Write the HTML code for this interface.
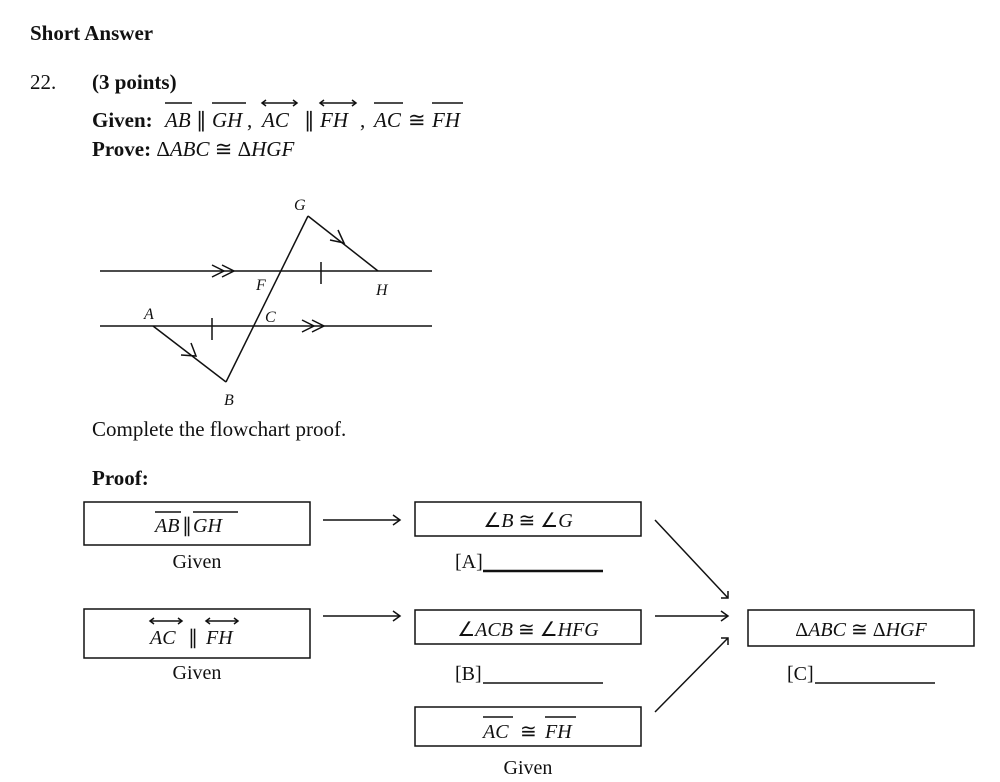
<!DOCTYPE html>
<html><head><style>body{margin:0;background:#fff}svg{display:block}text{font-family:"Liberation Serif",serif;fill:#111}</style></head><body>
<svg width="1000" height="782" viewBox="0 0 1000 782" xmlns="http://www.w3.org/2000/svg">
<g font-size="21">
<text x="30" y="40" font-weight="bold">Short Answer</text>
<text x="30" y="89">22.</text>
<text x="92" y="89" font-weight="bold">(3 points)</text>
<text x="92" y="127" font-weight="bold">Given:</text>
<text y="127" font-style="italic"><tspan x="165">AB</tspan><tspan x="212">GH</tspan><tspan x="262">AC</tspan><tspan x="320">FH</tspan><tspan x="374">AC</tspan><tspan x="432">FH</tspan></text>
<text y="127"><tspan x="196">∥</tspan><tspan x="247">,</tspan><tspan x="304">∥</tspan><tspan x="360">,</tspan><tspan x="408">≅</tspan></text>
<text x="92" y="156"><tspan font-weight="bold">Prove: </tspan>Δ<tspan font-style="italic">ABC</tspan> ≅ Δ<tspan font-style="italic">HGF</tspan></text>
<text x="92" y="436">Complete the flowchart proof.</text>
<text x="92" y="485" font-weight="bold">Proof:</text>
</g>
<g stroke="#111" stroke-width="1.5" fill="none">
<line x1="165" y1="103" x2="192" y2="103"/><line x1="212" y1="103" x2="246" y2="103"/>
<line x1="262" y1="103" x2="297" y2="103"/><line x1="320" y1="103" x2="356" y2="103"/>
<line x1="374" y1="103" x2="403" y2="103"/><line x1="432" y1="103" x2="463" y2="103"/>
<path d="M266 100 L262 103 L266 106 M293 100 L297 103 L293 106 M324 100 L320 103 L324 106 M352 100 L356 103 L352 106"/>
<line x1="100" y1="271" x2="432" y2="271"/>
<line x1="100" y1="326" x2="432" y2="326"/>
<line x1="308" y1="216" x2="226" y2="382"/>
<line x1="308" y1="216" x2="378" y2="271"/>
<line x1="153" y1="326" x2="226" y2="382"/>
<path d="M212 265 L224 271 L212 277 M222 265 L234 271 L222 277"/>
<path d="M302 320 L314 326 L302 332 M312 320 L324 326 L312 332"/>
<line x1="321" y1="262" x2="321" y2="284"/><line x1="212" y1="318" x2="212" y2="340"/>
<path d="M330 240 L344 243 L338 230"/>
<path d="M181 355 L196 356 L191 343"/>
<rect x="84" y="502" width="226" height="43"/>
<rect x="415" y="502" width="226" height="34"/>
<rect x="84" y="609" width="226" height="49"/>
<rect x="415" y="610" width="226" height="34"/>
<rect x="415" y="707" width="226" height="39"/>
<rect x="748" y="610" width="226" height="36"/>
<line x1="323" y1="520" x2="400" y2="520"/><path d="M393 515 L400 520 L393 525"/>
<line x1="323" y1="616" x2="400" y2="616"/><path d="M393 611 L400 616 L393 621"/>
<line x1="655" y1="520" x2="728" y2="598"/><path d="M728 591 L728 598 L721 598"/>
<line x1="655" y1="616" x2="728" y2="616"/><path d="M721 611 L728 616 L721 621"/>
<line x1="655" y1="712" x2="728" y2="638"/><path d="M721 638 L728 638 L728 645"/>
<line x1="155" y1="512" x2="181" y2="512"/><line x1="193" y1="512" x2="238" y2="512"/>
<line x1="150" y1="621" x2="182" y2="621"/><line x1="206" y1="621" x2="238" y2="621"/>
<path d="M154 618 L150 621 L154 624 M178 618 L182 621 L178 624 M210 618 L206 621 L210 624 M234 618 L238 621 L234 624"/>
<line x1="483" y1="717" x2="513" y2="717"/><line x1="545" y1="717" x2="576" y2="717"/>
<line x1="483" y1="571" x2="603" y2="571" stroke-width="2.5"/>
<line x1="483" y1="683" x2="603" y2="683"/>
<line x1="815" y1="683" x2="935" y2="683"/>
</g>
<g font-size="16" font-style="italic">
<text x="294" y="210">G</text><text x="376" y="295">H</text><text x="256" y="290">F</text>
<text x="265" y="322">C</text><text x="144" y="319">A</text><text x="224" y="405">B</text>
</g>
<g font-size="20">
<text y="532" font-style="italic"><tspan x="155">AB</tspan><tspan x="193">GH</tspan></text><text x="182" y="532">∥</text>
<text y="644" font-style="italic"><tspan x="150">AC</tspan><tspan x="206">FH</tspan></text><text x="188" y="644">∥</text>
<text y="738" font-style="italic"><tspan x="483">AC</tspan><tspan x="545">FH</tspan></text><text x="520" y="738">≅</text>
</g>
<g font-size="20" text-anchor="middle">
<text x="528" y="527">∠<tspan font-style="italic">B</tspan> ≅ ∠<tspan font-style="italic">G</tspan></text>
<text x="528" y="636">∠<tspan font-style="italic">ACB</tspan> ≅ ∠<tspan font-style="italic">HFG</tspan></text>
<text x="861" y="636">Δ<tspan font-style="italic">ABC</tspan> ≅ Δ<tspan font-style="italic">HGF</tspan></text>
<text x="197" y="568">Given</text>
<text x="197" y="679">Given</text>
<text x="528" y="774">Given</text>
</g>
<g font-size="20">
<text x="455" y="568">[A]</text><text x="455" y="680">[B]</text><text x="787" y="680">[C]</text>
</g>
</svg>
</body></html>
